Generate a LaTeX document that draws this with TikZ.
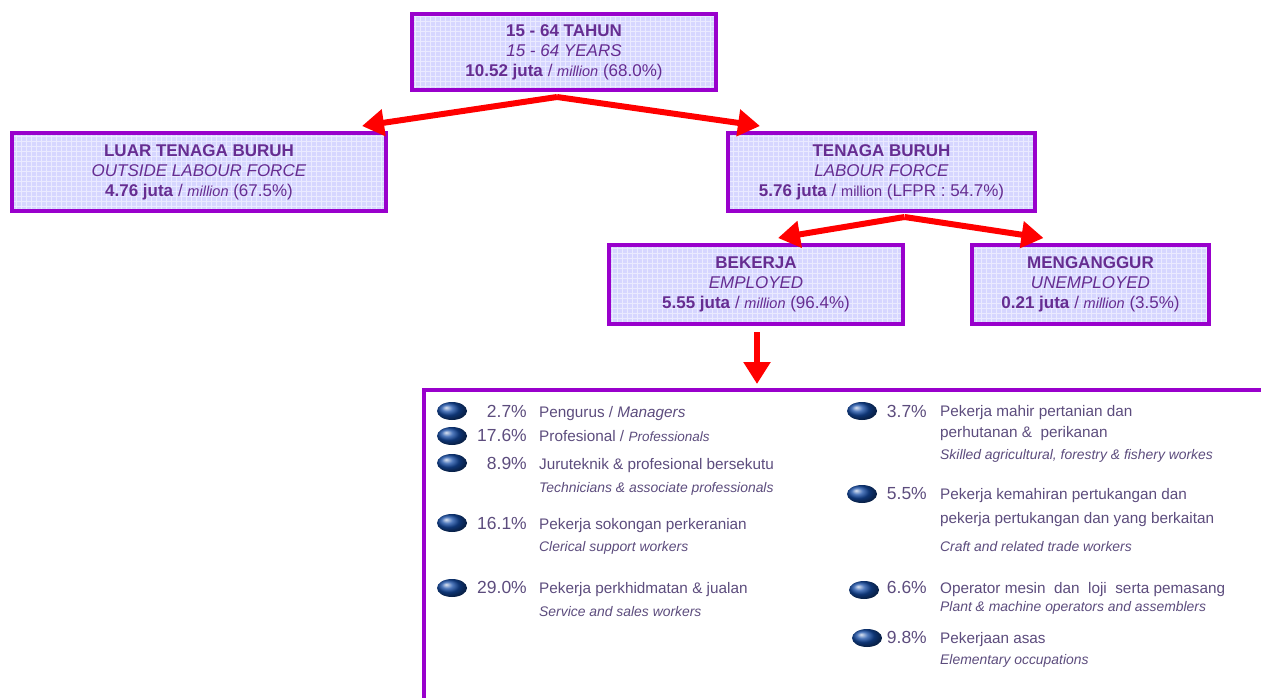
\documentclass[tikz,border=0pt]{standalone}
\usepackage{fontspec}
\setmainfont{Liberation Sans}
\usetikzlibrary{arrows.meta,calc}
\definecolor{boxpurple}{RGB}{153,0,204}
\definecolor{txtpurple}{RGB}{102,45,145}
\definecolor{boxfill}{RGB}{214,214,255}
\definecolor{listtxt}{RGB}{92,76,125}
\definecolor{arrowred}{RGB}{255,0,0}
\definecolor{bulletblue}{RGB}{20,75,165}
\newcommand\mil{{\fontsize{14.5}{20}\selectfont\itshape million}}
\begin{document}
\begin{tikzpicture}[x=1pt,y=-1pt,
  box/.style={draw=boxpurple, line width=4pt, fill=boxfill, text=txtpurple, align=center,
    font=\fontsize{17}{20}\selectfont, inner sep=0pt,
    path picture={\draw[white,line width=0.8pt,opacity=0.5] (path picture bounding box.south west) grid[step=5pt] (path picture bounding box.north east);}},
  redarrow/.style={draw=arrowred, line width=6pt, -{Triangle[length=22pt,width=26pt]}},
  panel/.style={draw=boxpurple, line width=4pt},
  bullet/.style={ball color=bulletblue},
  pct/.style={anchor=base east, text=listtxt, font=\fontsize{17.5}{19}\selectfont, inner sep=0pt},
  lbl/.style={anchor=base west, text=listtxt, font=\fontsize{15.3}{19}\selectfont, inner sep=0pt},
  eng/.style={anchor=base west, text=listtxt, font=\fontsize{13.9}{16}\selectfont\itshape, inner sep=0pt}
]
\useasboundingbox (0,0) rectangle (1261,698);

% boxes
\node[box, minimum width=304pt, minimum height=76pt] (top) at (564,52)
  {\textbf{15 - 64 TAHUN}\\ \textit{15 - 64 YEARS}\\ \textbf{10.52 juta} / \mil\ (68.0\%)};
\node[box, minimum width=374pt, minimum height=78pt] (lft) at (199,172)
  {\textbf{LUAR TENAGA BURUH}\\ \textit{OUTSIDE LABOUR FORCE}\\ \textbf{4.76 juta} / \mil\ (67.5\%)};
\node[box, minimum width=307pt, minimum height=78pt] (rgt) at (881.5,172)
  {\textbf{TENAGA BURUH}\\ \textit{LABOUR FORCE}\\ \textbf{5.76 juta} / {\fontsize{14.5}{20}\selectfont million} (LFPR : 54.7\%)};
\node[box, minimum width=294pt, minimum height=79pt] (bek) at (756,284.5)
  {\textbf{BEKERJA}\\ \textit{EMPLOYED}\\ \textbf{5.55 juta} / \mil\ (96.4\%)};
\node[box, minimum width=237pt, minimum height=79pt] (meng) at (1090.5,284.5)
  {\textbf{MENGANGGUR}\\ \textit{UNEMPLOYED}\\ \textbf{0.21 juta} / \mil\ (3.5\%)};

% arrows
\draw[redarrow] ($(top.south)+(-7,5)$) -- ($(lft.north east)+(-26,-5)$);
\draw[redarrow] ($(top.south)+(-7,5)$) -- ($(rgt.north west)+(34,-5)$);
\draw[redarrow] ($(rgt.south)+(23,4)$) -- ($(bek.north)+(22,-5)$);
\draw[redarrow] ($(rgt.south)+(23,4)$) -- ($(meng.north)+(-47,-5)$);
\draw[redarrow] ($(bek.south)+(1,6)$) -- ($(bek.south)+(1,58)$);

% panel
\coordinate (pc) at (424,390);
\coordinate (pr) at (1265,390);
\coordinate (pb) at (424,702);
\draw[panel] (pr) -- (pc) -- (pb);

% left column
\shade[bullet] (452,411) ellipse (15pt and 9pt);
\node[pct] (p1) at (527,417) {2.7\%};
\node[lbl] (l1) at (539,417) {Pengurus / \textit{Managers}};

\shade[bullet] (452,436) ellipse (15pt and 9pt);
\node[pct] (p2) at (527,441) {17.6\%};
\node[lbl] (l2) at (539,441) {Profesional / {\fontsize{13.5}{16}\selectfont\itshape Professionals}};

\shade[bullet] (452,463) ellipse (15pt and 9pt);
\node[pct] (p3) at (527,469) {8.9\%};
\node[lbl] (l3) at (539,469) {Juruteknik \& profesional bersekutu};
\node[eng] (e3) at (539,492) {Technicians \& associate professionals};

\shade[bullet] (452,523) ellipse (15pt and 9pt);
\node[pct] (p4) at (527,529) {16.1\%};
\node[lbl] (l4) at (539,529) {Pekerja sokongan perkeranian};
\node[eng] (e4) at (539,551) {Clerical support workers};

\shade[bullet] (452,588) ellipse (15pt and 9pt);
\node[pct] (p5) at (527,593) {29.0\%};
\node[lbl] (l5) at (539,593) {Pekerja perkhidmatan \& jualan};
\node[eng] (e5) at (539,616) {Service and sales workers};

% right column
\shade[bullet] (862,411) ellipse (15pt and 9pt);
\node[pct] (p6) at (927,417) {3.7\%};
\node[lbl] (l6) at (940,416) {Pekerja mahir pertanian dan};
\node[lbl] (l6b) at (940,437) {perhutanan \&\ \ perikanan};
\node[eng] (e6) at (940,459) {Skilled agricultural, forestry \& fishery workes};

\shade[bullet] (862,494) ellipse (15pt and 9pt);
\node[pct] (p7) at (927,499) {5.5\%};
\node[lbl] (l7) at (940,499) {Pekerja kemahiran pertukangan dan};
\node[lbl] (l7b) at (940,523) {pekerja pertukangan dan yang berkaitan};
\node[eng] (e7) at (940,551) {Craft and related trade workers};

\shade[bullet] (864,590) ellipse (15pt and 9pt);
\node[pct] (p8) at (927,593) {6.6\%};
\node[lbl] (l8) at (940,593) {Operator mesin\ \ dan\ \ loji\ \ serta pemasang};
\node[eng] (e8) at (940,611) {Plant \& machine operators and assemblers};

\shade[bullet] (867,638) ellipse (15pt and 9pt);
\node[pct] (p9) at (927,643) {9.8\%};
\node[lbl] (l9) at (940,643) {Pekerjaan asas};
\node[eng] (e9) at (940,664) {Elementary occupations};
\end{tikzpicture}
\end{document}
